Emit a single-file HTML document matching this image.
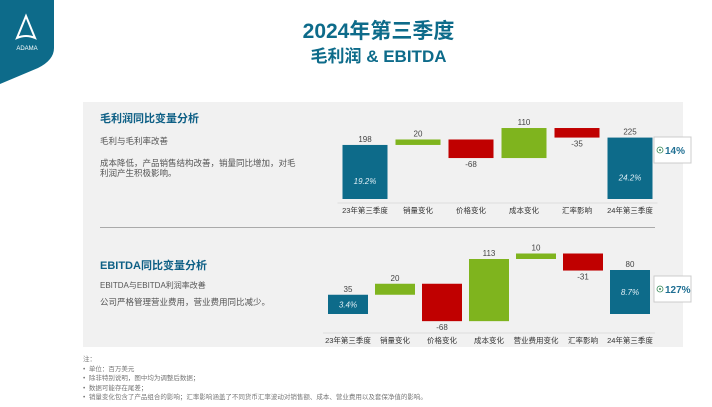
<!DOCTYPE html>
<html><head><meta charset="utf-8"><style>
body{margin:0;width:712px;height:407px;overflow:hidden;background:#fff;font-family:"Liberation Sans","Noto Sans CJK SC",sans-serif;position:relative}
.t{position:absolute;white-space:nowrap}
</style></head><body>
<svg style="position:absolute;left:0;top:0" width="60" height="85"><path d="M0 0H54V48Q54 60 38 68L0 84Z" fill="#0d6b8a"/><path d="M26 16L17 38Q26 34 35 38Z" fill="none" stroke="#fff" stroke-width="2"/><text x="27" y="50" font-size="6" fill="#fff" text-anchor="middle" font-family="Liberation Sans">ADAMA</text></svg>
<div class="t" style="left:0;width:757px;text-align:center;top:15px;font-size:21px;font-weight:bold;color:#0d6b8a">2024年第三季度</div>
<div class="t" style="left:0;width:757px;text-align:center;top:42px;font-size:17px;font-weight:bold;color:#0d6b8a">毛利润 &amp; EBITDA</div>
<div style="position:absolute;left:83px;top:102px;width:600px;height:245px;background:#f1f1f1"></div>
<div style="position:absolute;left:100px;top:227px;width:555px;height:1px;background:#aaa"></div>
<div class="t" style="left:100px;top:110px;font-size:11px;font-weight:bold;color:#0d5f85">毛利润同比变量分析</div>
<div class="t" style="left:100px;top:135px;font-size:8.5px;color:#555">毛利与毛利率改善</div>
<div class="t" style="left:100px;top:158px;font-size:8.5px;color:#555;line-height:10px">成本降低，产品销售结构改善，销量同比增加，对毛<br>利润产生积极影响。</div>
<div class="t" style="left:100px;top:257px;font-size:11px;font-weight:bold;color:#0d5f85">EBITDA同比变量分析</div>
<div class="t" style="left:100px;top:280px;font-size:8px;color:#555">EBITDA与EBITDA利润率改善</div>
<div class="t" style="left:100px;top:296px;font-size:8.5px;color:#555">公司严格管理营业费用，营业费用同比减少。</div>
<div class="t" style="left:83px;top:355px;font-size:6.5px;color:#777;line-height:9.5px">注：<br>• &nbsp;单位：百万美元<br>• &nbsp;除非特别说明，图中均为调整后数据；<br>• &nbsp;数据可能存在尾差；<br>• &nbsp;销量变化包含了产品组合的影响；汇率影响涵盖了不同货币汇率波动对销售额、成本、营业费用以及套保净值的影响。</div>
<svg id="c" width="712" height="407" style="position:absolute;left:0;top:0"></svg>
<script>
const gpCats=["23年第三季度","销量变化","价格变化","成本变化","汇率影响","24年第三季度"];
const gpVals=[198,20,-68,110,-35,225];
const gpPct=["19.2%","24.2%"];
const ebCats=["23年第三季度","销量变化","价格变化","成本变化","营业费用变化","汇率影响","24年第三季度"];
const ebVals=[35,20,-68,113,10,-31,80];
const ebPct=["3.4%","8.7%"];
const growth=["14%","127%"];
const svg=document.getElementById('c');const NS="http://www.w3.org/2000/svg";
function el(t,a,txt){const e=document.createElementNS(NS,t);for(const k in a)e.setAttribute(k,a[k]);if(txt!=null)e.textContent=txt;svg.appendChild(e);return e;}
function draw(cats,vals,pct,x0,step,w,zeroY,sc,labY,pre,pctOff){
  const y=v=>zeroY-v*sc;let run=0;
  cats.forEach((c,i)=>{
    const v=vals[i];const total=(i==0||i==cats.length-1);
    let a,b,col;
    if(total){a=0;b=v;col="#0d6b8a";run=v;}else{a=run;b=run+v;run=b;col=v>=0?"#7fb41e":"#c00000";}
    const top=y(Math.max(a,b)),bot=y(Math.min(a,b));const cx=x0+i*step;
    const r=el('rect',{x:cx-w/2,y:top,width:w,height:bot-top,fill:col});
    
    
    const neg=!total&&v<0;
    const t=el('text',{x:cx,y:neg?bot+9:top-3,'font-size':8,fill:'#444','text-anchor':'middle'},v);
    
    
    const l=el('text',{x:cx,y:labY,'font-size':7.5,fill:'#333','text-anchor':'middle'},c);
    
    
    if(total){const p=el('text',{x:cx,y:(top+bot)/2+pctOff,'font-size':8,fill:'#dfeef5','text-anchor':'middle','font-style':'italic'},pct[i==0?0:1]);
      
      }
  });
  const ax=el('line',{x1:x0-w/2-5,x2:x0+(cats.length-1)*step+w/2+5,y1:labY-10,y2:labY-10,stroke:'#ddd'});
  
  
}
draw(gpCats,gpVals,gpPct,365,53,45,199,0.273,213,'gp',12);
draw(ebCats,ebVals,ebPct,348,47,40,314,0.55,343,'eb',3);
function badge(x,yy,txt,n){
  const r=el('rect',{x:x,y:yy,width:37,height:26,fill:'#fff',stroke:'#ccc'});
  
  
  el('circle',{cx:x+6,cy:yy+13,r:3,fill:'none',stroke:'#3a8a5a','stroke-width':0.8});
  el('circle',{cx:x+6,cy:yy+13,r:1,fill:'#3a8a5a'});
  const t=el('text',{x:x+11,y:yy+17,'font-size':10,'font-weight':'bold',fill:'#1f6f93'},txt);
  
  
}
badge(654,137,growth[0],'gp');badge(654,276,growth[1],'eb');
</script>
</body></html>
